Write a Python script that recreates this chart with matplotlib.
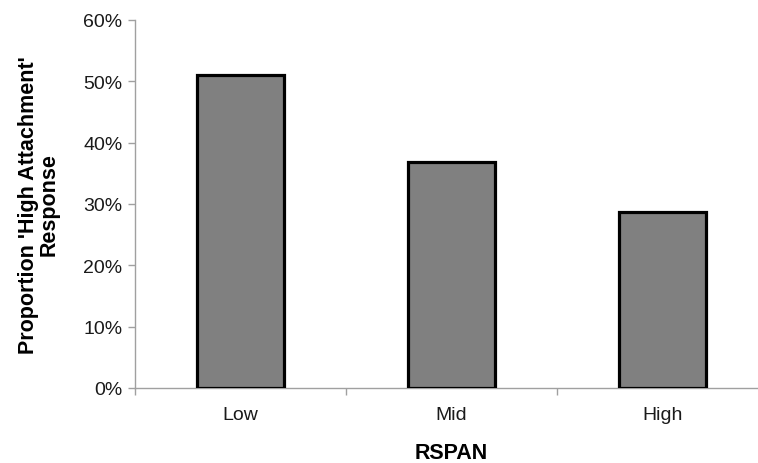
import matplotlib.pyplot as plt
from matplotlib.ticker import PercentFormatter

# Data
categories = ['Low', 'Mid', 'High']
proportions = [51.0, 36.8, 28.6]
y_ticks = [0, 10, 20, 30, 40, 50, 60]

plt.rcParams['font.family'] = ['Liberation Sans', 'DejaVu Sans']

fig = plt.figure(figsize=(7.58, 4.64), dpi=100)
# axis runs off the right edge of the image, like the original
ax = fig.add_axes([0.178, 0.162, 0.835, 0.793])

x = range(len(categories))
ax.bar(x, proportions, width=0.41, color='#808080', edgecolor='black',
       linewidth=2.3, zorder=3)

ax.set_xlim(-0.5, 2.5)
ax.set_ylim(0, 60)
ax.set_yticks(y_ticks)
ax.yaxis.set_major_formatter(PercentFormatter(decimals=0))

ax.set_xticks(list(x))
ax.set_xticklabels(categories)
ax.set_xticks([-0.5, 0.5, 1.5, 2.5], minor=True)
ax.tick_params(axis='x', which='major', length=0, pad=13, labelsize=14,
               labelcolor='#1a1a1a')
ax.tick_params(axis='x', which='minor', length=5, width=1, color='#a0a0a0',
               direction='out')
ax.tick_params(axis='y', length=5, width=1, color='#a0a0a0', direction='out',
               labelsize=14, labelcolor='#1a1a1a', pad=4)

for s in ['top', 'right']:
    ax.spines[s].set_visible(False)
for s in ['left', 'bottom']:
    ax.spines[s].set_color('#a0a0a0')
    ax.spines[s].set_linewidth(1)

ax.set_ylabel("Proportion 'High Attachment'\nResponse", fontsize=15.5,
              fontweight='bold', linespacing=1.0)
ax.yaxis.set_label_coords(-0.119, 0.5)
ax.set_xlabel('RSPAN', fontsize=15.5, fontweight='bold')
ax.xaxis.set_label_coords(0.5, -0.148)

fig.savefig('out.png', dpi=100)
